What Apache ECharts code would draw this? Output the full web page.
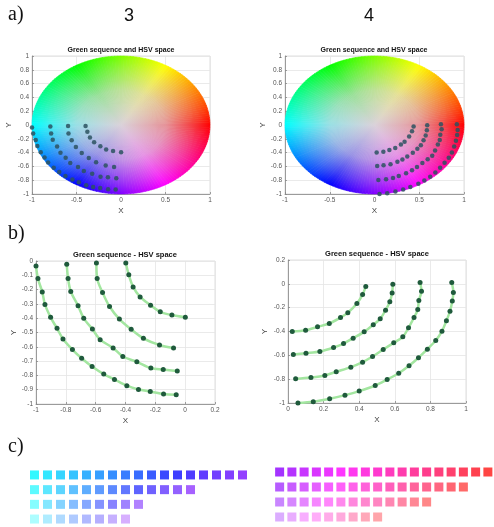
<!DOCTYPE html>
<html>
<head>
<meta charset="utf-8">
<title>Green sequence and HSV space</title>
<script src="https://cdn.jsdelivr.net/npm/echarts@6/dist/echarts.min.js"></script>
<style>
  html, body { margin: 0; padding: 0; background: #fff; }
  #main { width: 494px; height: 527px; }
</style>
</head>
<body>
<div id="main"></div>
<script>
var left1 = [[-1.0, -0.035], [-0.987, -0.123], [-0.958, -0.216], [-0.940, -0.304], [-0.902, -0.394], [-0.859, -0.471], [-0.819, -0.545], [-0.756, -0.619], [-0.694, -0.680], [-0.624, -0.738], [-0.546, -0.791], [-0.474, -0.828], [-0.391, -0.872], [-0.313, -0.898], [-0.234, -0.912], [-0.145, -0.930], [-0.060, -0.935]];
var left2 = [[-0.794, -0.023], [-0.785, -0.123], [-0.767, -0.213], [-0.718, -0.313], [-0.680, -0.401], [-0.622, -0.476], [-0.570, -0.550], [-0.483, -0.608], [-0.418, -0.668], [-0.324, -0.705], [-0.230, -0.749], [-0.147, -0.759], [-0.053, -0.770]];
var left3 = [[-0.595, -0.014], [-0.590, -0.123], [-0.554, -0.220], [-0.507, -0.318], [-0.441, -0.406], [-0.362, -0.478], [-0.280, -0.541], [-0.172, -0.587], [-0.078, -0.608]];
var left4 = [[-0.398, -0.014], [-0.378, -0.097], [-0.349, -0.181], [-0.302, -0.251], [-0.232, -0.309], [-0.167, -0.355], [-0.089, -0.378], [0.001, -0.394]];

var right1 = [[0.056, -1.0], [0.142, -0.99], [0.234, -0.965], [0.320, -0.934], [0.400, -0.900], [0.490, -0.853], [0.557, -0.803], [0.622, -0.750], [0.680, -0.688], [0.733, -0.620], [0.783, -0.548], [0.830, -0.476], [0.865, -0.397], [0.890, -0.310], [0.910, -0.230], [0.923, -0.145], [0.929, -0.073], [0.920, 0.011]];
var right2 = [[0.043, -0.797], [0.129, -0.786], [0.207, -0.769], [0.271, -0.738], [0.353, -0.699], [0.419, -0.657], [0.475, -0.610], [0.535, -0.551], [0.594, -0.495], [0.645, -0.445], [0.677, -0.369], [0.708, -0.283], [0.729, -0.216], [0.735, -0.140], [0.750, -0.062], [0.742, 0.011]];
var right3 = [[0.030, -0.593], [0.101, -0.582], [0.179, -0.568], [0.256, -0.534], [0.312, -0.501], [0.366, -0.456], [0.428, -0.403], [0.479, -0.344], [0.518, -0.294], [0.548, -0.221], [0.572, -0.151], [0.585, -0.076], [0.589, -0.003]];
var right4 = [[0.024, -0.400], [0.099, -0.389], [0.166, -0.361], [0.232, -0.333], [0.295, -0.283], [0.336, -0.243], [0.387, -0.165], [0.419, -0.090], [0.437, -0.022]];

var leftCurves = [left1, left2, left3, left4];
var rightCurves = [right1, right2, right3, right4];

// tick labels
var xTicksA = [-1, -0.5, 0, 0.5, 1];
var yTicksA = [-1, -0.8, -0.6, -0.4, -0.2, 0, 0.2, 0.4, 0.6, 0.8, 1];
var xTicksB3 = [-1, -0.8, -0.6, -0.4, -0.2, 0, 0.2];
var yTicksB3 = [-1, -0.9, -0.8, -0.7, -0.6, -0.5, -0.4, -0.3, -0.2, -0.1, 0];
var xTicksB4 = [0, 0.2, 0.4, 0.6, 0.8, 1];
var yTicksB4 = [-1, -0.8, -0.6, -0.4, -0.2, 0, 0.2];

var titleA = 'Green sequence and HSV space';
var titleB = 'Green sequence - HSV space';

var wheelCenter = [218, 210, 218];
var lineGreen = '#a3e6a0';
var dotGreen = '#1f5a3c';
var dotWheel = '#2c5260';

// pure hue (S = V = 1) as rgb 0..1
function hueRgb(h) {
  var f = function (n) {
    var k = (n + h / 60) % 6;
    return 1 - Math.max(0, Math.min(k, 4 - k, 1));
  };
  return [f(5), f(3), f(1)];
}

// HSV (V = 1) colour of a point: angle -> hue, radius -> saturation
function hsvColor(x, y) {
  var h = Math.atan2(y, x) * 180 / Math.PI;
  if (h < 0) h += 360;
  var s = Math.min(1, Math.sqrt(x * x + y * y));
  var rgb = hueRgb(h).map(function (v) {
    return Math.round(255 * (1 - s * (1 - v)));
  });
  return 'rgb(' + rgb.join(',') + ')';
}

function mix(rgb01, t) {
  var c = rgb01.map(function (v, i) {
    return Math.round(wheelCenter[i] * (1 - t) + 255 * v * t);
  });
  return 'rgb(' + c.join(',') + ')';
}

function renderWheel(params, api) {
  var c = api.coord([0, 0]);
  var kids = [];
  var n = 180;
  for (var k = 0; k < n; k++) {
    var a0 = k / n * 2 * Math.PI;
    var a1 = (k + 1.1) / n * 2 * Math.PI;
    var am = (k + 0.5) / n * 2 * Math.PI;
    var p0 = api.coord([Math.cos(a0), Math.sin(a0)]);
    var p1 = api.coord([Math.cos(a1), Math.sin(a1)]);
    var pm = api.coord([Math.cos(am), Math.sin(am)]);
    var hue = hueRgb(am * 180 / Math.PI);
    var grad = new echarts.graphic.LinearGradient(c[0], c[1], pm[0], pm[1], [
      { offset: 0, color: mix(hue, 0) },
      { offset: 0.5, color: mix(hue, 0.3) },
      { offset: 0.8, color: mix(hue, 0.7) },
      { offset: 1, color: mix(hue, 1) }
    ], true);
    kids.push({ type: 'polygon', shape: { points: [c, p0, p1] },
      style: { fill: grad, stroke: grad, lineWidth: 0.6 } });
  }
  return { type: 'group', children: kids };
}

function step(ticks) {
  return Math.round((ticks[1] - ticks[0]) * 1e6) / 1e6;
}

function axis(gridIndex, ticks, name, gap, isY) {
  return {
    type: 'value',
    gridIndex: gridIndex,
    min: ticks[0],
    max: ticks[ticks.length - 1],
    interval: step(ticks),
    name: name,
    nameLocation: 'middle',
    nameGap: gap,
    nameRotate: isY ? 90 : 0,
    nameTextStyle: { fontSize: 8, color: '#444', fontFamily: 'Liberation Sans' },
    axisLine: { show: true, onZero: false, lineStyle: { color: '#888', width: 0.8 } },
    axisTick: { show: true, inside: true, length: 2, lineStyle: { color: '#888', width: 0.8 } },
    axisLabel: { fontSize: 6.5, color: '#555', margin: 3, fontFamily: 'Liberation Sans' },
    splitLine: { show: true, lineStyle: { color: '#e4e4e4', width: 0.8 } }
  };
}

function hidden(gridIndex, min, max, inverse) {
  return { type: 'value', gridIndex: gridIndex, min: min, max: max, inverse: !!inverse, show: false };
}

function squareData(curves) {
  var out = [];
  curves.forEach(function (pts, row) {
    pts.forEach(function (p, i) {
      out.push({ value: [i, row], itemStyle: { color: hsvColor(p[0], p[1]) } });
    });
  });
  return out;
}

var series = [];
// panel a: colour wheels
[0, 1].forEach(function (g) {
  series.push({
    type: 'custom', xAxisIndex: g, yAxisIndex: g, silent: true, z: 1,
    data: [[0, 0]], renderItem: renderWheel
  });
});
leftCurves.forEach(function (pts) {
  series.push({ type: 'scatter', xAxisIndex: 0, yAxisIndex: 0, z: 3, symbolSize: 4.5, data: pts,
    itemStyle: { color: dotWheel, opacity: 0.85 } });
});
rightCurves.forEach(function (pts) {
  series.push({ type: 'scatter', xAxisIndex: 1, yAxisIndex: 1, z: 3, symbolSize: 4.5, data: pts,
    itemStyle: { color: dotWheel, opacity: 0.85 } });
});
// panel b: sequences
[[leftCurves, 2], [rightCurves, 3]].forEach(function (set) {
  set[0].forEach(function (pts) {
    series.push({
      type: 'line', xAxisIndex: set[1], yAxisIndex: set[1], data: pts, smooth: 0.3,
      symbol: 'circle', symbolSize: 5, showSymbol: true,
      lineStyle: { color: lineGreen, width: 2.5 },
      itemStyle: { color: dotGreen, borderWidth: 0 }
    });
  });
});
// panel c: colour squares
series.push({ type: 'scatter', xAxisIndex: 4, yAxisIndex: 4, symbol: 'rect', symbolSize: 9, data: squareData(leftCurves) });
series.push({ type: 'scatter', xAxisIndex: 5, yAxisIndex: 5, symbol: 'rect', symbolSize: 9, data: squareData(rightCurves) });

function label(text, x, y, font, align) {
  return {
    type: 'text', x: x, y: y, silent: true,
    style: { text: text, font: font, fill: '#111', align: align, textAlign: align,
      verticalAlign: 'middle', textVerticalAlign: 'middle' }
  };
}

var box = { show: true, borderColor: '#d6d6d6', borderWidth: 0.8, backgroundColor: 'transparent' };

var myChart = echarts.init(document.getElementById('main'));
var option = {
  backgroundColor: '#fff',
  animation: false,
  grid: [
    Object.assign({ left: 32, top: 56, width: 178, height: 138 }, box),
    Object.assign({ left: 285, top: 56, width: 179, height: 138 }, box),
    Object.assign({ left: 36, top: 261, width: 179, height: 143 }, box),
    Object.assign({ left: 288, top: 260, width: 178, height: 143 }, box),
    { left: 28, top: 467.6, width: 221, height: 58.8 },
    { left: 273.5, top: 464.5, width: 225, height: 60 }
  ],
  xAxis: [
    axis(0, xTicksA, 'X', 13, false),
    axis(1, xTicksA, 'X', 13, false),
    axis(2, xTicksB3, 'X', 13, false),
    axis(3, xTicksB4, 'X', 13, false),
    hidden(4, -0.5, 16.5),
    hidden(5, -0.5, 17.5)
  ],
  yAxis: [
    axis(0, yTicksA, 'Y', 19, true),
    axis(1, yTicksA, 'Y', 18, true),
    axis(2, yTicksB3, 'Y', 16, true),
    axis(3, yTicksB4, 'Y', 19, true),
    hidden(4, -0.5, 3.5, true),
    hidden(5, -0.5, 3.5, true)
  ],
  graphic: [
    label('a)', 8, 15, '20px "Liberation Serif"', 'left'),
    label('3', 129, 16, '18px "Liberation Sans"', 'center'),
    label('4', 369, 16, '18px "Liberation Sans"', 'center'),
    label('b)', 8, 234, '20px "Liberation Serif"', 'left'),
    label('c)', 8, 447, '20px "Liberation Serif"', 'left'),
    label(titleA, 121, 50, 'bold 7px "Liberation Sans"', 'center'),
    label(titleA, 374, 50, 'bold 7px "Liberation Sans"', 'center'),
    label(titleB, 125, 255, 'bold 7.5px "Liberation Sans"', 'center'),
    label(titleB, 377, 254, 'bold 7.5px "Liberation Sans"', 'center')
  ],
  series: series
};
myChart.setOption(option);
</script>
</body>
</html>
